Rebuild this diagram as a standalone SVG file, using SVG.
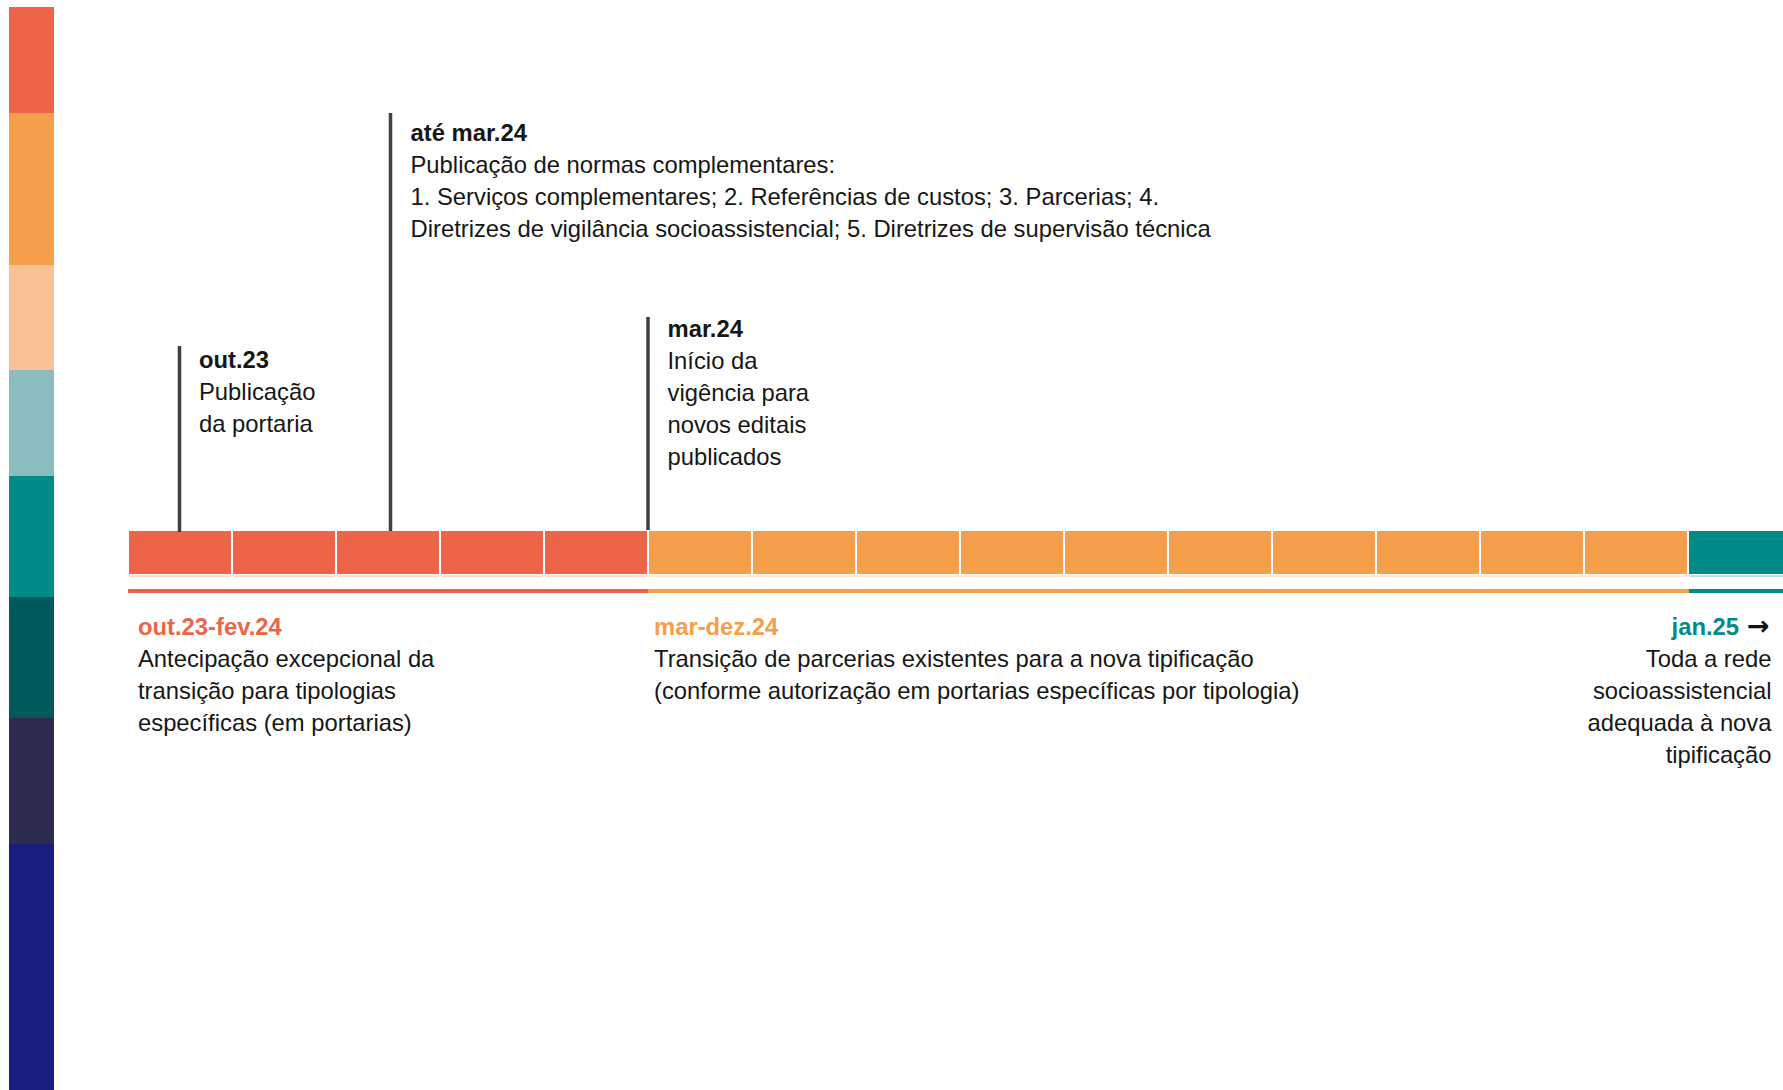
<svg xmlns="http://www.w3.org/2000/svg" width="1783" height="1090" viewBox="0 0 1783 1090">
<style>
  text { font-family: "Liberation Sans", Arial, sans-serif; font-size: 23.8px; fill: #161616; }
  .b { font-weight: bold; }
  .red { fill: #EE6449; }
  .org { fill: #F59E4B; }
  .tea { fill: #008A88; }
  .lred { fill: #FBCFC3; }
  .lorg { fill: #FDE2C2; }
  .ltea { fill: #A8D7D6; }
  .tick { stroke: #404040; stroke-width: 3.5; fill: none; }
  .end { text-anchor: end; }
  .arrow { font-family: "DejaVu Sans", sans-serif; font-weight: bold; font-size: 27px; fill: #111; }
</style>

<g id="palette">
  <rect x="9" y="7" width="45" height="106" fill="#EE6449"/>
  <rect x="9" y="113" width="45" height="152" fill="#F59E4B"/>
  <rect x="9" y="265" width="45" height="105" fill="#FAC194"/>
  <rect x="9" y="370" width="45" height="106" fill="#8DBCBF"/>
  <rect x="9" y="476" width="45" height="121" fill="#008A88"/>
  <rect x="9" y="597" width="45" height="121" fill="#005A5C"/>
  <rect x="9" y="718" width="45" height="126" fill="#2F2A50"/>
  <rect x="9" y="844" width="45" height="246" fill="#1B1C80"/>
</g>

<g id="timeline-bar">
  <rect class="red" x="129" y="531" width="102" height="43"/>
  <rect class="red" x="233" y="531" width="102" height="43"/>
  <rect class="red" x="337" y="531" width="102" height="43"/>
  <rect class="red" x="441" y="531" width="102" height="43"/>
  <rect class="red" x="545" y="531" width="102" height="43"/>
  <rect class="org" x="649" y="531" width="102" height="43"/>
  <rect class="org" x="753" y="531" width="102" height="43"/>
  <rect class="org" x="857" y="531" width="102" height="43"/>
  <rect class="org" x="961" y="531" width="102" height="43"/>
  <rect class="org" x="1065" y="531" width="102" height="43"/>
  <rect class="org" x="1169" y="531" width="102" height="43"/>
  <rect class="org" x="1273" y="531" width="102" height="43"/>
  <rect class="org" x="1377" y="531" width="102" height="43"/>
  <rect class="org" x="1481" y="531" width="102" height="43"/>
  <rect class="org" x="1585" y="531" width="102" height="43"/>
  <rect class="tea" x="1689" y="531" width="94" height="43"/>

  <rect class="lred" x="129" y="575.3" width="102" height="1.5"/>
  <rect class="lred" x="233" y="575.3" width="102" height="1.5"/>
  <rect class="lred" x="337" y="575.3" width="102" height="1.5"/>
  <rect class="lred" x="441" y="575.3" width="102" height="1.5"/>
  <rect class="lred" x="545" y="575.3" width="102" height="1.5"/>
  <rect class="lorg" x="649" y="575.3" width="102" height="1.5"/>
  <rect class="lorg" x="753" y="575.3" width="102" height="1.5"/>
  <rect class="lorg" x="857" y="575.3" width="102" height="1.5"/>
  <rect class="lorg" x="961" y="575.3" width="102" height="1.5"/>
  <rect class="lorg" x="1065" y="575.3" width="102" height="1.5"/>
  <rect class="lorg" x="1169" y="575.3" width="102" height="1.5"/>
  <rect class="lorg" x="1273" y="575.3" width="102" height="1.5"/>
  <rect class="lorg" x="1377" y="575.3" width="102" height="1.5"/>
  <rect class="lorg" x="1481" y="575.3" width="102" height="1.5"/>
  <rect class="lorg" x="1585" y="575.3" width="102" height="1.5"/>
  <rect class="ltea" x="1689" y="575.3" width="94" height="1.5"/>

  <rect class="red" x="128" y="589" width="520" height="4"/>
  <rect class="org" x="648" y="589" width="1041" height="4"/>
  <rect class="tea" x="1689" y="589" width="94" height="4"/>
</g>

<g id="connectors">
  <line class="tick" x1="179.5" y1="346" x2="179.5" y2="532"/>
  <line class="tick" x1="390.5" y1="113" x2="390.5" y2="531"/>
  <line class="tick" x1="648" y1="317" x2="648" y2="530"/>
</g>

<g id="node-out23">
  <text x="199" y="367.5"><tspan class="b">out.23</tspan><tspan x="199" dy="32">Publicação</tspan><tspan x="199" dy="32">da portaria</tspan></text>
</g>

<g id="node-ate-mar24">
  <text x="410.5" y="140.5"><tspan class="b">até mar.24</tspan><tspan x="410.5" dy="32">Publicação de normas complementares:</tspan><tspan x="410.5" dy="32">1. Serviços complementares; 2. Referências de custos; 3. Parcerias; 4.</tspan><tspan x="410.5" dy="32">Diretrizes de vigilância socioassistencial; 5. Diretrizes de supervisão técnica</tspan></text>
</g>

<g id="node-mar24">
  <text x="667.5" y="337"><tspan class="b">mar.24</tspan><tspan x="667.5" dy="32">Início da</tspan><tspan x="667.5" dy="32">vigência para</tspan><tspan x="667.5" dy="32">novos editais</tspan><tspan x="667.5" dy="32">publicados</tspan></text>
</g>

<g id="node-out23-fev24">
  <text x="138" y="635"><tspan class="b red">out.23-fev.24</tspan><tspan x="138" dy="32">Antecipação excepcional da</tspan><tspan x="138" dy="32">transição para tipologias</tspan><tspan x="138" dy="32">específicas (em portarias)</tspan></text>
</g>

<g id="node-mar-dez24">
  <text x="654" y="635"><tspan class="b org">mar-dez.24</tspan><tspan x="654" dy="32">Transição de parcerias existentes para a nova tipificação</tspan><tspan x="654" dy="32">(conforme autorização em portarias específicas por tipologia)</tspan></text>
</g>

<g id="node-jan25">
  <text class="end b tea" x="1739" y="635">jan.25</text>
  <text class="arrow" x="1747" y="635">→</text>
  <text class="end" x="1771.5" y="667"><tspan x="1771.5">Toda a rede</tspan><tspan x="1771.5" dy="32">socioassistencial</tspan><tspan x="1771.5" dy="32">adequada à nova</tspan><tspan x="1771.5" dy="32">tipificação</tspan></text>
</g>
</svg>
